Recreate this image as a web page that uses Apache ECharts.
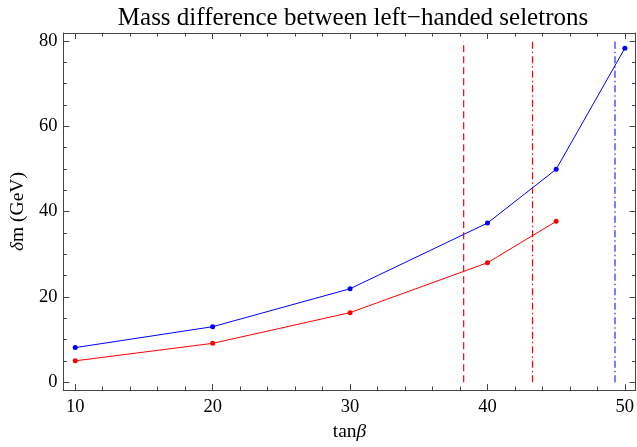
<!DOCTYPE html>
<html>
<head>
<meta charset="utf-8">
<script src="https://cdn.jsdelivr.net/npm/echarts@6/dist/echarts.min.js"></script>
<style>html,body{margin:0;padding:0;background:#fff}#c{width:637px;height:447px}</style>
</head>
<body>
<div id="c"></div>
<script>
// ---- data ----
const titleText = 'Mass difference between left\u2212handed seletrons';
const blueX = [10, 20, 30, 40, 45, 50];
const blueY = [8.1, 13.0, 21.9, 37.3, 49.9, 78.3];
const redX = [10, 20, 30, 40, 45];
const redY = [5.0, 9.1, 16.3, 28.0, 37.7];
const redDashedX = 38.27;
const redDashDotX = 43.28;
const blueDashDotX = 49.28;
const vlineYRange = [0, 80];
const xMajorTicks = [10, 20, 30, 40, 50];
const xMinorTicks = [12, 14, 16, 18, 22, 24, 26, 28, 32, 34, 36, 38, 42, 44, 46, 48];
const yMajorTicks = [0, 20, 40, 60, 80];
const yMinorTicks = [5, 10, 15, 25, 30, 35, 45, 50, 55, 65, 70, 75];

const FONT = '"Liberation Serif", "Times New Roman", serif';
const AX = '#444';
const xMin = 9.14, xMax = 50.78, yMin = -1.86, yMax = 81.86;

function zip(xs, ys) { return xs.map((x, i) => [x, ys[i]]); }
function vline(x) { return vlineYRange.map(y => [x, y]); }

function xAxisDef(pos, ticks, len, showLine, showLabel) {
  return {
    type: 'value', position: pos, min: xMin, max: xMax,
    axisLine: { show: showLine, onZero: false, lineStyle: { color: AX, width: 1 } },
    axisTick: { show: true, inside: true, length: len, customValues: ticks, lineStyle: { color: AX, width: 1 } },
    axisLabel: { show: showLabel, customValues: ticks, fontFamily: FONT, fontSize: 18.5, color: '#000', margin: 8 },
    splitLine: { show: false }
  };
}
function yAxisDef(pos, ticks, len, showLine, showLabel) {
  return {
    type: 'value', position: pos, min: yMin, max: yMax,
    axisLine: { show: showLine, onZero: false, lineStyle: { color: AX, width: 1 } },
    axisTick: { show: true, inside: true, length: len, customValues: ticks, lineStyle: { color: AX, width: 1 } },
    axisLabel: { show: showLabel, customValues: ticks, fontFamily: FONT, fontSize: 18.5, color: '#000', margin: 6 },
    splitLine: { show: false }
  };
}

const xAxes = [
  xAxisDef('bottom', xMajorTicks, 6, true, true),
  xAxisDef('bottom', xMinorTicks, 3.5, false, false),
  xAxisDef('top', xMajorTicks, 6, true, false),
  xAxisDef('top', xMinorTicks, 3.5, false, false)
];
xAxes[0].name = '{a|tan}{b|\u03b2}';
xAxes[0].nameLocation = 'middle';
xAxes[0].nameGap = 30;
xAxes[0].nameTextStyle = { rich: {
  a: { fontFamily: FONT, fontSize: 19.5, color: '#000' },
  b: { fontFamily: FONT, fontSize: 19.5, fontStyle: 'italic', color: '#000' } } };

const yAxes = [
  yAxisDef('left', yMajorTicks, 6, true, true),
  yAxisDef('left', yMinorTicks, 3.5, false, false),
  yAxisDef('right', yMajorTicks, 6, true, false),
  yAxisDef('right', yMinorTicks, 3.5, false, false)
];
yAxes[0].name = '{b|\u03b4}{a|m (GeV)}';
yAxes[0].nameLocation = 'middle';
yAxes[0].nameGap = 31;
yAxes[0].nameTextStyle = { rich: {
  a: { fontFamily: FONT, fontSize: 19.5, color: '#000' },
  b: { fontFamily: FONT, fontSize: 19.5, fontStyle: 'italic', color: '#000' } } };

const chart = echarts.init(document.getElementById('c'), null, { renderer: 'canvas' });
chart.setOption({
  animation: false,
  backgroundColor: '#fff',
  title: {
    text: titleText, left: 348, textAlign: 'center', top: 1,
    textStyle: { fontFamily: FONT, fontSize: 25, fontWeight: 'normal', color: '#000' }
  },
  grid: { left: 58, right: -2, top: 33, bottom: 54, containLabel: false },
  xAxis: xAxes,
  yAxis: yAxes,
  series: [
    { type: 'line', data: vline(redDashedX), symbol: 'none', silent: true,
      lineStyle: { color: '#ff0000', width: 1.2, type: [7, 4] } },
    { type: 'line', data: vline(redDashDotX), symbol: 'none', silent: true,
      lineStyle: { color: '#ff0000', width: 1.2, type: [7, 3, 1.5, 3] } },
    { type: 'line', data: vline(blueDashDotX), symbol: 'none', silent: true,
      lineStyle: { color: '#7a7aff', width: 2, type: [7, 3, 1.5, 3] } },
    { type: 'line', data: zip(redX, redY), symbol: 'circle', symbolSize: 5,
      itemStyle: { color: '#ff0000' }, lineStyle: { color: '#ff0000', width: 1 } },
    { type: 'line', data: zip(blueX, blueY), symbol: 'circle', symbolSize: 5,
      itemStyle: { color: '#0000ff' }, lineStyle: { color: '#0000ff', width: 1 } }
  ]
});
</script>
</body>
</html>
